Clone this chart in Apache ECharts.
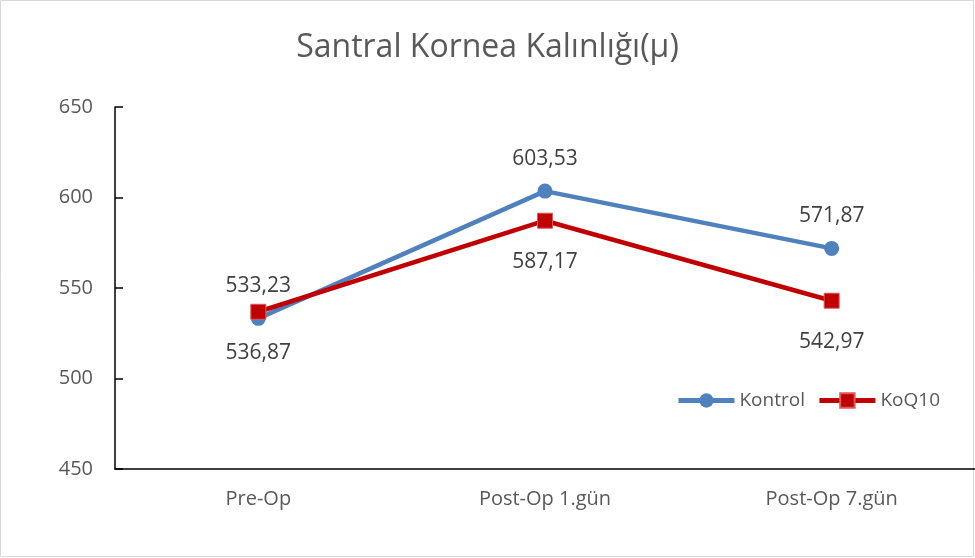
<!DOCTYPE html>
<html>
<head>
<meta charset="utf-8">
<script src="https://cdn.jsdelivr.net/npm/echarts@6/dist/echarts.min.js"></script>
<style>
  html, body { margin: 0; padding: 0; background: #fff; }
  #myChart { width: 975px; height: 558px; }
</style>
</head>
<body>
<div id="myChart"></div>
<script>
  // data
  var categories = ['Pre-Op', 'Post-Op 1.gün', 'Post-Op 7.gün'];
  var kontrol = [533.23, 603.53, 571.87];
  var koq10 = [536.87, 587.17, 542.97];
  var yTicks = [450, 500, 550, 600, 650];

  function fmt(v) {
    return v.toFixed(2).replace('.', ',');
  }

  var myChart = echarts.init(document.getElementById('myChart'));
  myChart.setOption({
    animation: false,
    backgroundColor: '#ffffff',
    textStyle: { fontFamily: 'Open Sans' },
    graphic: [{
      type: 'rect',
      shape: { x: 0.5, y: 0.5, width: 973, height: 556 },
      style: { fill: 'none', stroke: '#d9d9d9', lineWidth: 1 }
    }],
    title: {
      text: 'Santral Kornea Kalınlığı(μ)',
      left: 'center',
      top: 27,
      textStyle: { color: '#595959', fontSize: 32, fontWeight: 'normal', fontFamily: 'Open Sans' }
    },
    legend: {
      right: 30,
      top: 386,
      itemWidth: 56,
      itemHeight: 18,
      itemGap: 12,
      lineStyle: { width: 5 },
      textStyle: { color: '#595959', fontSize: 19, fontFamily: 'Open Sans' },
      data: ['Kontrol', 'KoQ10']
    },
    grid: {
      left: 115,
      top: 107,
      width: 864,
      height: 362,
      containLabel: false
    },
    xAxis: {
      type: 'category',
      data: categories,
      boundaryGap: true,
      axisLine: { lineStyle: { color: '#000', width: 1.5 } },
      axisTick: { inside: true, alignWithLabel: true, length: 6, lineStyle: { color: '#000', width: 1.5 } },
      axisLabel: { color: '#595959', fontSize: 20, margin: 20 }
    },
    yAxis: {
      type: 'value',
      min: yTicks[0],
      max: yTicks[yTicks.length - 1],
      interval: 50,
      axisLine: { show: true, lineStyle: { color: '#000', width: 1.5 } },
      axisTick: { show: true, inside: true, length: 8, lineStyle: { color: '#000', width: 1.5 } },
      axisLabel: { color: '#595959', fontSize: 20, margin: 22 },
      splitLine: { show: false }
    },
    series: [
      {
        name: 'Kontrol',
        type: 'line',
        data: kontrol,
        symbol: 'circle',
        symbolSize: 15,
        itemStyle: { color: '#4f81bd' },
        lineStyle: { color: '#4f81bd', width: 4.5 },
        label: {
          show: true,
          position: 'top',
          distance: 14,
          color: '#404040',
          fontSize: 21,
          formatter: function (p) { return fmt(p.value); }
        }
      },
      {
        name: 'KoQ10',
        type: 'line',
        data: koq10,
        symbol: 'rect',
        symbolSize: 15,
        itemStyle: { color: '#c00000', borderColor: '#d9595c', borderWidth: 1 },
        lineStyle: { color: '#c00000', width: 4.5 },
        label: {
          show: true,
          position: 'bottom',
          distance: 23,
          color: '#404040',
          fontSize: 21,
          formatter: function (p) { return fmt(p.value); }
        }
      }
    ]
  });
</script>
</body>
</html>
